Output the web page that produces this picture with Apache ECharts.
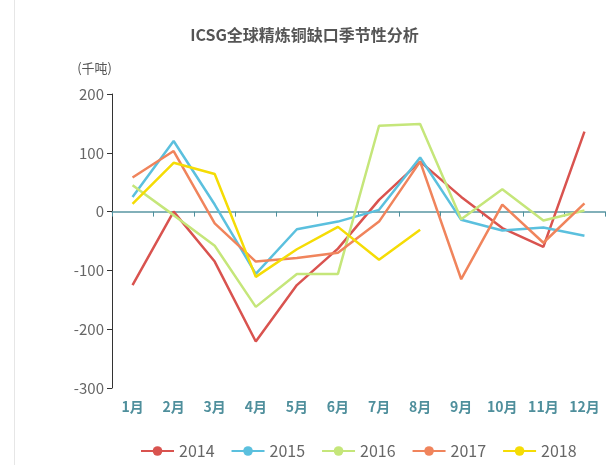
<!DOCTYPE html>
<html>
<head>
<meta charset="utf-8">
<style>
  html, body { margin: 0; padding: 0; background: #fff; }
  #main { width: 609px; height: 465px; }
</style>
<script src="https://cdn.jsdelivr.net/npm/echarts@6/dist/echarts.min.js"></script>
</head>
<body>
<div id="main"></div>
<script>
  var months = ['1月', '2月', '3月', '4月', '5月', '6月', '7月', '8月', '9月', '10月', '11月', '12月'];
  var years = ['2014', '2015', '2016', '2017', '2018'];
  var colors = ['#d9534f', '#5bc0de', '#c5e67a', '#f0845c', '#f5dc05'];

  var gap2014 = [-125, 0, -85, -221, -125, -63, 20, 85, 25, -28, -60, 136];
  var gap2015 = [25, 120, 12, -106, -30, -17, 3, 92, -14, -32, -27, -41];
  var gap2016 = [45, -6, -58, -162, -106, -106, 146, 149, -13, 38, -15, 2];
  var gap2017 = [58, 103, -20, -85, -79, -70, -17, 85, -115, 12, -53, 14];
  var gap2018 = [13, 83, 64, -111, -64, -26, -82, -31, null, null, null, null];

  var yTicks = { min: -300, max: 200, interval: 100 };

  var seriesData = [gap2014, gap2015, gap2016, gap2017, gap2018];

  var chart = echarts.init(document.getElementById('main'));

  var series = [];
  for (var i = 0; i < years.length; i++) {
    series.push({
      name: years[i],
      type: 'line',
      xAxisIndex: 0,
      symbol: 'circle',
      symbolSize: 8,
      showSymbol: false,
      connectNulls: false,
      lineStyle: { width: 2.5, color: colors[i] },
      itemStyle: { color: colors[i] },
      data: seriesData[i]
    });
  }

  var option = {
    animation: false,
    textStyle: { fontFamily: '"Noto Sans CJK SC", "Noto Sans", sans-serif' },
    graphic: [{
      type: 'rect',
      shape: { x: 14, y: 0, width: 1, height: 465 },
      style: { fill: '#e6e6e6' }
    }],
    title: {
      text: 'ICSG全球精炼铜缺口季节性分析',
      left: 'center',
      top: 22,
      textStyle: { fontSize: 16, fontWeight: 'bold', color: '#555' }
    },
    legend: {
      data: years,
      left: 135,
      bottom: 1,
      itemWidth: 33,
      itemHeight: 12,
      itemGap: 16,
      textStyle: { fontSize: 16, color: '#666' }
    },
    grid: { left: 112, right: 4, top: 94, bottom: 77 },
    xAxis: [{
      type: 'category',
      data: months,
      position: 'bottom',
      axisLine: { show: false, onZero: false },
      axisTick: { show: false },
      axisLabel: { fontSize: 14, fontWeight: 'bold', color: '#4f8f9c', margin: 12 }
    }, {
      type: 'category',
      data: months,
      position: 'bottom',
      axisLine: { show: true, onZero: true, lineStyle: { color: '#5a97a3', width: 1.5 } },
      axisTick: { show: true, length: 5, lineStyle: { color: '#4f8f9c' } },
      axisLabel: { show: false }
    }],
    yAxis: {
      type: 'value',
      name: '(千吨)',
      nameGap: 19,
      nameTextStyle: { fontSize: 13, color: '#555', align: 'right' },
      min: yTicks.min,
      max: yTicks.max,
      interval: yTicks.interval,
      axisLine: { show: true, lineStyle: { color: '#333' } },
      axisTick: { show: true, length: 5, lineStyle: { color: '#333' } },
      axisLabel: { fontSize: 15, color: '#666', margin: 8 },
      splitLine: { show: false }
    },
    series: series
  };

  chart.setOption(option);
</script>
</body>
</html>
